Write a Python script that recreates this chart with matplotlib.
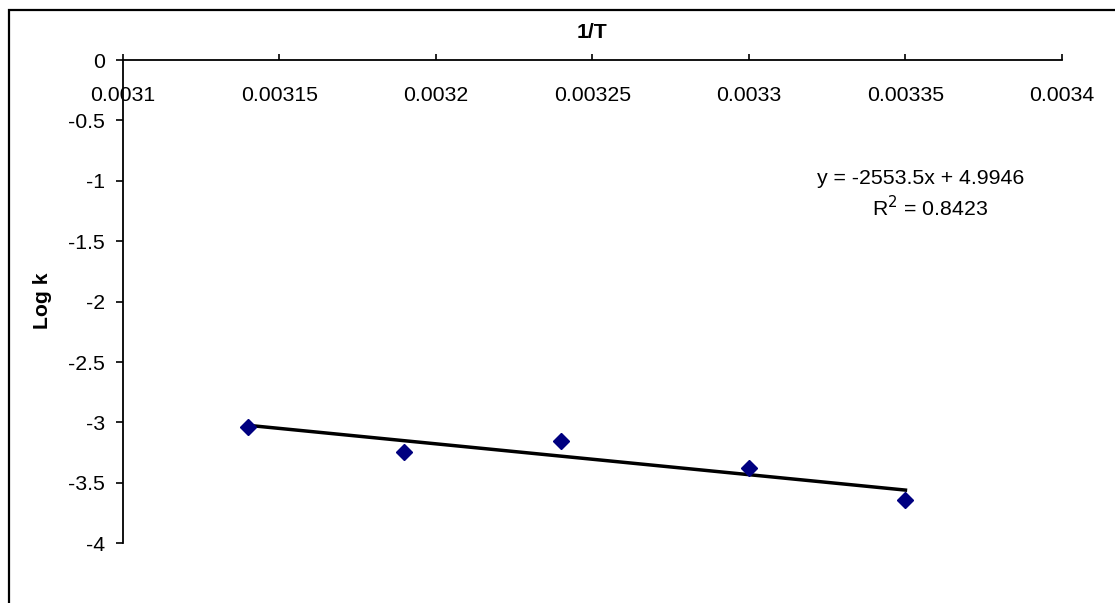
# =============================================================================
# Arrhenius-type plot: Log k vs 1/T with linear trendline (Excel-style)
# =============================================================================

import numpy as np
import matplotlib
matplotlib.use("Agg")
import matplotlib.pyplot as plt
from matplotlib.patches import Rectangle

plt.rcParams["font.family"] = ["Liberation Sans", "DejaVu Sans"]
plt.rcParams["axes.unicode_minus"] = False

# ─── DATA ────────────────────────────────────────────────────────────────────
inv_T = [0.00314, 0.00319, 0.00324, 0.00330, 0.00335]
log_k = [-3.04, -3.245, -3.15, -3.38, -3.64]

# trendline as reported on the chart
slope = -2553.5
intercept = 4.9946
r_squared = 0.8423

x_ticks = [0.0031, 0.00315, 0.0032, 0.00325, 0.0033, 0.00335, 0.0034]
x_tick_labels = ["0.0031", "0.00315", "0.0032", "0.00325", "0.0033", "0.00335", "0.0034"]
y_ticks = [0, -0.5, -1, -1.5, -2, -2.5, -3, -3.5, -4]
y_tick_labels = ["0", "-0.5", "-1", "-1.5", "-2", "-2.5", "-3", "-3.5", "-4"]

W, H = 1115, 603
FS = 15.3

# ─── FIGURE ──────────────────────────────────────────────────────────────────
fig = plt.figure(figsize=(W / 100, H / 100), dpi=100)
ax = fig.add_axes([122.7 / W, 1 - 543.3 / H, (1062 - 122.7) / W, (543.3 - 60) / H])

# outer chart frame (runs off the right and bottom edges)
fig.add_artist(Rectangle((9 / W, -0.2), 1.2, 1.2 - 10 / H,
                         transform=fig.transFigure, fill=False,
                         edgecolor="black", linewidth=1.6, clip_on=False))

# trendline over the data range
xl = np.array([min(inv_T), max(inv_T)])
ax.plot(xl, slope * xl + intercept, color="black", linewidth=2.5, zorder=2)

# data points
ax.plot(inv_T, log_k, linestyle="none", marker="D", markersize=8,
        color="#000080", zorder=3)

# ─── AXES ────────────────────────────────────────────────────────────────────
ax.set_xlim(0.0031, 0.0034)
ax.set_ylim(-4, 0)

for side in ["bottom", "right"]:
    ax.spines[side].set_visible(False)
for side in ["top", "left"]:
    ax.spines[side].set_linewidth(1.3)
    ax.spines[side].set_color("black")

ax.xaxis.set_ticks_position("top")
ax.set_xticks(x_ticks)
ax.set_xticklabels(x_tick_labels)
ax.tick_params(axis="x", direction="out", length=4.3, width=1.2,
               labeltop=True, labelbottom=False, labelsize=FS, pad=-37)

ax.set_yticks(y_ticks)
ax.set_yticklabels(y_tick_labels)
ax.tick_params(axis="y", direction="out", length=5, width=1.2,
               labelsize=FS, pad=8)

# axis titles
fig.text(592 / W, 1 - 33 / H, "1/T", ha="center", va="center",
         fontsize=FS, fontweight="bold")
fig.text(43 / W, 1 - 301 / H, "Log k", ha="center", va="center",
         rotation=90, fontsize=FS, fontweight="bold")

# trendline equation
fig.text(921 / W, 1 - 178 / H, f"y = {slope}x + {intercept}",
         ha="center", va="center", fontsize=FS)
fig.text(930 / W, 1 - 208 / H, f"R$^2$ = {r_squared}",
         ha="center", va="center", fontsize=FS)

plt.savefig("out.png", dpi=100)
plt.close()
